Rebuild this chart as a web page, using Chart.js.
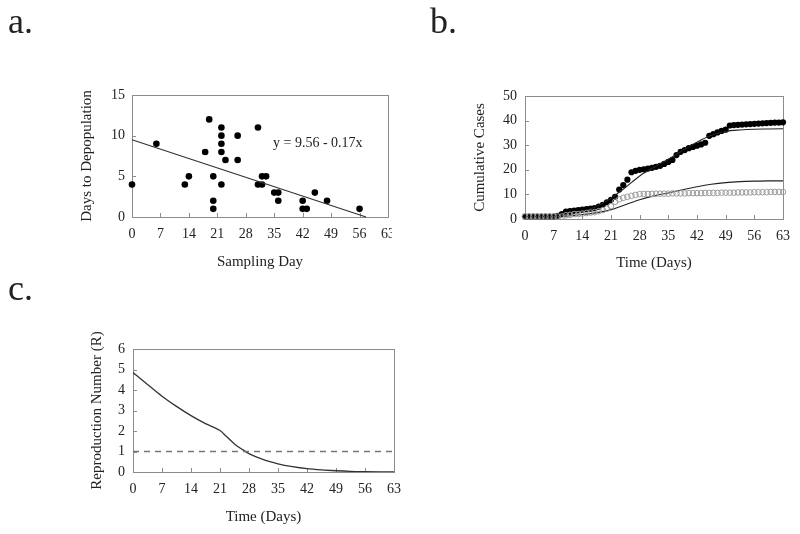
<!DOCTYPE html>
<html>
<head>
<meta charset="utf-8">
<script src="https://cdn.jsdelivr.net/npm/chart.js@4.4.1/dist/chart.umd.min.js"></script>
<style>
  html, body { margin: 0; padding: 0; background: #fff; }
  #page { position: relative; width: 800px; height: 534px; overflow: hidden; }
  canvas { position: absolute; left: 0; top: 0; }
  #chartA { clip-path: inset(0 408px 0 0); }
  .tag { position: absolute; font-family: 'Liberation Serif', 'Times New Roman', serif; color: #222; line-height: 1; }
  .panel { font-size: 36px; }
  .eq { font-size: 14px; line-height: 16px; }
</style>
</head>
<body>
<div id="page">
  <canvas id="chartA" width="800" height="534"></canvas>
  <canvas id="chartB" width="800" height="534"></canvas>
  <canvas id="chartC" width="800" height="534"></canvas>
  <div class="tag panel" style="left:8px; top:3px;">a.</div>
  <div class="tag panel" style="left:430px; top:3px;">b.</div>
  <div class="tag panel" style="left:8px; top:270px;">c.</div>
  <div class="tag eq" style="left:273px; top:135px;">y = 9.56 - 0.17x</div>
</div>
<script>
// panel a: sampling day vs days to depopulation
const sampleDay = [0, 6, 13, 14, 18, 19, 20, 20, 20, 22, 22, 22, 22, 22, 23, 26, 26, 31, 31, 32, 32, 33, 35, 36, 36, 42, 42, 43, 45, 48, 56];
const depopDays = [4, 9, 4, 5, 8, 12, 5, 2, 1, 11, 10, 9, 8, 4, 7, 10, 7, 11, 4, 4, 5, 5, 3, 3, 2, 2, 1, 1, 3, 2, 1];
const regDays = [0, 57.6];
const regValues = [9.5, 0];

// panel b: cumulative cases, observed (filled / open) and fitted
const caseDays = [0, 1, 2, 3, 4, 5, 6, 7, 8, 9, 10, 11, 12, 13, 14, 15, 16, 17, 18, 19, 20,
  21, 22, 23, 24, 25, 26, 27, 28, 29, 30, 31, 32, 33, 34, 35, 36, 37, 38, 39, 40, 41, 42,
  43, 44, 45, 46, 47, 48, 49, 50, 51, 52, 53, 54, 55, 56, 57, 58, 59, 60, 61, 62, 63];
const filledCases = [1, 1, 1, 1, 1, 1, 1, 1, 1.3, 2, 3, 3.2, 3.4, 3.6, 3.8, 4, 4.2, 4.4, 5, 5.8, 6.8,
  7.8, 9, 12, 13.8, 16, 19, 19.6, 20, 20.2, 20.5, 20.8, 21.2, 21.6, 22.4, 23.2, 24, 26, 27.3, 28, 28.8, 29.3, 29.8,
  30.3, 31, 33.8, 34.5, 35.2, 35.8, 36.3, 38, 38.2, 38.3, 38.4, 38.5, 38.6, 38.7, 38.8, 38.9, 39, 39.1, 39.2, 39.2, 39.3];
const openCases = [1, 1, 1, 1, 1, 1, 1, 1, 1, 1, 1.5, 1.7, 2, 2, 2.2, 2.4, 2.6, 2.8, 3.2, 3.6, 4.2,
  5.2, 7, 8, 8.6, 9, 9.4, 9.8, 10.1, 10.2, 10.2, 10.2, 10.3, 10.3, 10.3, 10.3, 10.4, 10.4, 10.4, 10.4, 10.5, 10.5, 10.5,
  10.5, 10.6, 10.6, 10.6, 10.6, 10.7, 10.7, 10.7, 10.7, 10.8, 10.8, 10.8, 10.8, 10.9, 10.9, 10.9, 10.9, 11, 11, 11, 11];
const upperFitDays = [0, 3.5, 7, 10.5, 14, 17.5, 21, 24.5, 28, 31.5, 35, 38.5, 42, 45.5, 49, 52.5, 56, 59.5, 63];
const upperFit = [0.3, 0.5, 0.9, 1.7, 3.0, 5.2, 8.5, 12.8, 17.5, 21.0, 24.3, 27.8, 31.2, 34.0, 35.6, 36.2, 36.5, 36.6, 36.7];
const lowerFitDays = [0, 7, 14, 17.5, 21, 24.5, 28, 31.5, 35, 38.5, 42, 45.5, 49, 52.5, 56, 59.5, 63];
const lowerFit = [0.1, 0.6, 1.8, 2.6, 3.8, 5.8, 7.8, 9.4, 10.6, 11.9, 13.1, 14.1, 14.8, 15.2, 15.4, 15.5, 15.5];

// panel c: reproduction number over time
const rDays = [0, 3.5, 7, 10.5, 14, 17.5, 21, 22.5, 24.5, 27, 28, 31.5, 35, 38.5, 42, 45.5, 49, 52.5, 56, 59.5, 63];
const rValues = [4.85, 4.27, 3.7, 3.2, 2.75, 2.36, 2.02, 1.74, 1.37, 1.02, 0.9, 0.6, 0.4, 0.26, 0.16, 0.1, 0.06, 0.03, 0.015, 0.005, 0];
const thresholdDays = [0, 63];
const thresholdR = [1, 1];

const serif = "'Liberation Serif', 'Times New Roman', serif";
const ink = '#222';
const frameColor = '#8c8c8c';

const pts = (xs, ys) => xs.map((x, i) => ({ x, y: ys[i] }));

// grey box round the plot area, plus short ticks pointing inwards
const framePlugin = {
  id: 'frame',
  beforeDatasetsDraw(chart) {
    const { ctx, chartArea: a, scales } = chart;
    ctx.save();
    ctx.strokeStyle = frameColor;
    ctx.lineWidth = 1;
    ctx.strokeRect(Math.round(a.left) + 0.5, Math.round(a.top) + 0.5,
      Math.round(a.right - a.left), Math.round(a.bottom - a.top));
    ctx.beginPath();
    scales.x.ticks.forEach(t => {
      const px = Math.round(scales.x.getPixelForValue(t.value)) + 0.5;
      ctx.moveTo(px, a.bottom);
      ctx.lineTo(px, a.bottom - 4);
    });
    scales.y.ticks.forEach(t => {
      const py = Math.round(scales.y.getPixelForValue(t.value)) + 0.5;
      ctx.moveTo(a.left, py);
      ctx.lineTo(a.left + 4, py);
    });
    ctx.stroke();
    ctx.restore();
  },
};

function buildScales(p) {
  return {
    x: {
      type: 'linear',
      min: 0,
      max: 63,
      grid: { display: false, drawTicks: false },
      border: { display: false },
      ticks: {
        stepSize: 7,
        autoSkip: false,
        maxRotation: 0,
        padding: p.xTickPad,
        color: ink,
        font: { family: serif, size: 14 },
      },
      title: { display: true, text: p.xTitle, color: ink, padding: 0, font: { family: serif, size: 15 } },
      afterFit: (s) => { s.height = p.xh; },
    },
    y: {
      type: 'linear',
      min: 0,
      max: p.yMax,
      grid: { display: false, drawTicks: false },
      border: { display: false },
      ticks: {
        stepSize: p.yStep,
        padding: p.yTickPad,
        color: ink,
        font: { family: serif, size: 14 },
      },
      title: { display: true, text: p.yTitle, color: ink, padding: 0, font: { family: serif, size: 15 } },
      afterFit: (s) => { s.width = p.yw; },
    },
  };
}

function baseOptions(p) {
  return {
    responsive: false,
    animation: false,
    events: [],
    layout: { padding: p.pad },
    plugins: { legend: { display: false }, tooltip: { enabled: false } },
    scales: buildScales(p),
  };
}

new Chart(document.getElementById('chartA'), {
  type: 'scatter',
  data: {
    datasets: [
      {
        type: 'line',
        data: pts(regDays, regValues),
        borderColor: '#333',
        borderWidth: 1.2,
        pointRadius: 0,
        clip: false,
      },
      {
        data: pts(sampleDay, depopDays),
        backgroundColor: '#000',
        borderColor: '#000',
        pointRadius: 3.3,
        borderWidth: 0,
        clip: false,
      },
    ],
  },
  options: baseOptions({
    pad: { left: 78, right: 412, top: 95, bottom: 263 },
    yw: 54, xh: 54, yMax: 15, yStep: 5, xTickPad: 9, yTickPad: 7,
    xTitle: 'Sampling Day', yTitle: 'Days to Depopulation',
  }),
  plugins: [framePlugin],
});

new Chart(document.getElementById('chartB'), {
  type: 'scatter',
  data: {
    datasets: [
      {
        data: pts(caseDays, openCases),
        backgroundColor: 'rgba(255,255,255,0)',
        borderColor: '#9a9a9a',
        borderWidth: 1,
        pointRadius: 2.8,
        clip: false,
      },
      {
        type: 'line',
        data: pts(lowerFitDays, lowerFit),
        borderColor: '#222',
        borderWidth: 1.1,
        pointRadius: 0,
        cubicInterpolationMode: 'monotone',
      },
      {
        type: 'line',
        data: pts(upperFitDays, upperFit),
        borderColor: '#222',
        borderWidth: 1.1,
        pointRadius: 0,
        cubicInterpolationMode: 'monotone',
      },
      {
        data: pts(caseDays, filledCases),
        backgroundColor: '#000',
        borderColor: '#000',
        borderWidth: 0,
        pointRadius: 3.1,
        clip: false,
      },
    ],
  },
  options: baseOptions({
    pad: { left: 471, right: 17, top: 96, bottom: 262 },
    yw: 54, xh: 53, yMax: 50, yStep: 10, xTickPad: 9, yTickPad: 8,
    xTitle: 'Time (Days)', yTitle: 'Cumulative Cases',
  }),
  plugins: [framePlugin],
});

new Chart(document.getElementById('chartC'), {
  type: 'line',
  data: {
    datasets: [
      {
        data: pts(thresholdDays, thresholdR),
        borderColor: '#777',
        borderWidth: 1.3,
        borderDash: [6, 5],
        pointRadius: 0,
      },
      {
        data: pts(rDays, rValues),
        borderColor: '#333',
        borderWidth: 1.3,
        pointRadius: 0,
        cubicInterpolationMode: 'monotone',
      },
    ],
  },
  options: baseOptions({
    pad: { left: 88, right: 406, top: 349, bottom: 8 },
    yw: 45, xh: 54, yMax: 6, yStep: 1, xTickPad: 9, yTickPad: 8,
    xTitle: 'Time (Days)', yTitle: 'Reproduction Number (R)',
  }),
  plugins: [framePlugin],
});
</script>
</body>
</html>
